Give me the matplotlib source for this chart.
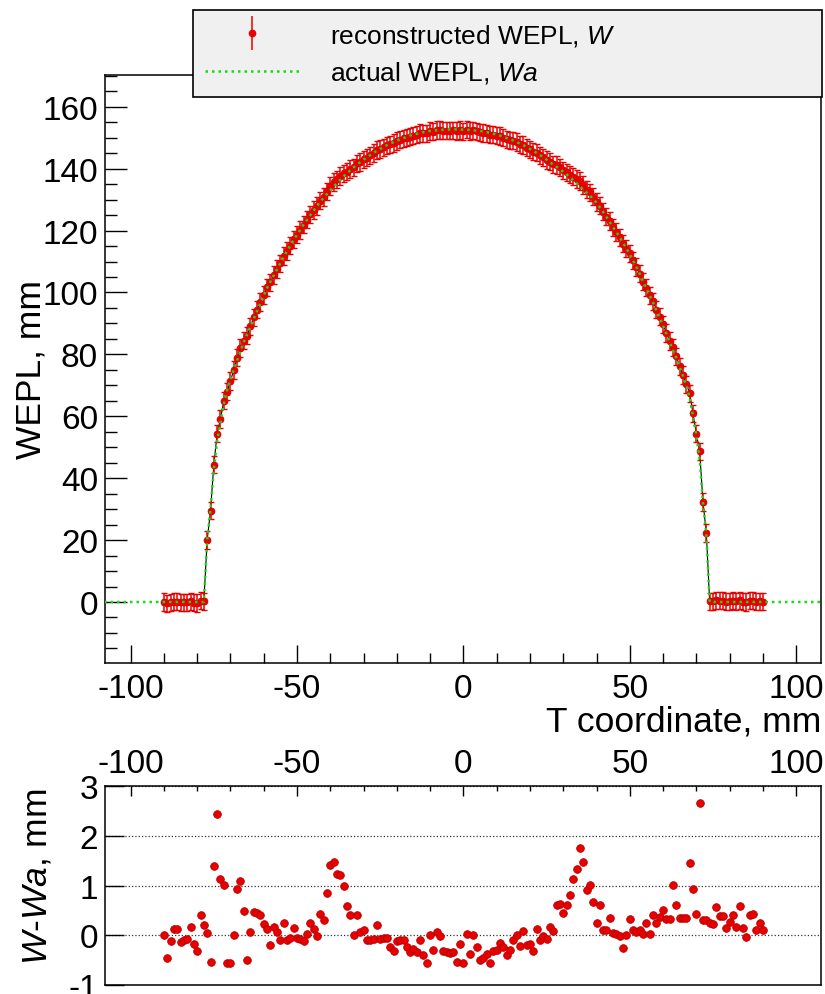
import numpy as np
import matplotlib
matplotlib.use('Agg')
import matplotlib.pyplot as plt
from matplotlib.ticker import MultipleLocator
from matplotlib.lines import Line2D

plt.rcParams['font.family'] = ['Liberation Sans', 'DejaVu Sans']
plt.rcParams['mathtext.fontset'] = 'custom'
plt.rcParams['mathtext.it'] = 'Liberation Sans:italic'
plt.rcParams['mathtext.rm'] = 'Liberation Sans'
plt.rcParams['axes.unicode_minus'] = False

# T coordinate of each reconstructed bin, mm
t = np.arange(-90, 91)

# actual WEPL (mm), t = -90 ... 90
wepl_actual = [
    0, 0, 0, 0, 0, 0, 0, 0, 0, 0,                                  # -90..-81
    0, 0, 0, 20, 30, 43, 52, 58, 64, 68.5,                         # -80..-71
    72, 75, 78, 81, 84, 86.5, 89, 91.5, 94, 96.5,                  # -70..-61
    99, 101.5, 103.5, 105.5, 107.5, 109.5, 111.5, 113.5, 115.2, 117,   # -60..-51
    118.7, 120.3, 122, 123.5, 125, 126.5, 128, 129.3, 130.6, 131.8,    # -50..-41
    133, 134.2, 135.3, 136.4, 137.5, 138.5, 139.5, 140.4, 141.3, 142.1,  # -40..-31
    142.9, 143.7, 144.4, 145.1, 145.8, 146.4, 147, 147.6, 148.1, 148.6,  # -30..-21
    149.1, 149.5, 149.9, 150.3, 150.7, 151, 151.3, 151.6, 151.8, 152,    # -20..-11
    152.2, 152.3, 152.4, 152.5, 152.6, 152.6, 152.7, 152.7, 152.7, 152.7,  # -10..-1
    152.6, 152.6, 152.5, 152.4, 152.3, 152.2, 152, 151.8, 151.6, 151.3,    # 0..9
    151, 150.7, 150.3, 149.9, 149.5, 149.1, 148.6, 148.1, 147.6, 147,      # 10..19
    146.4, 145.8, 145.1, 144.4, 143.7, 142.9, 142.1, 141.3, 140.6, 139.8,  # 20..29
    139, 138.2, 137.3, 136.3, 135.3, 134.3, 133.3, 132.3, 131.3, 130.3,    # 30..39
    129, 127.5, 126, 124.4, 122.7, 121, 119.5, 117.8, 116, 114.2,          # 40..49
    112.3, 110.3, 108.2, 106, 103.5, 101.3, 99, 96.7, 94.2, 91.8,          # 50..59
    89.2, 86.6, 84, 81.3, 78.8, 75.8, 73, 70, 66, 60,                      # 60..69
    54, 46, 32, 22, 0, 0, 0, 0, 0, 0,                                      # 70..79
    0, 0, 0, 0, 0, 0, 0, 0, 0, 0,                                          # 80..89
    0,                                                                     # 90
]

# W - Wa (mm), t = -90 ... 90
residual = [
    0.0, -0.45, -0.12, 0.13, 0.13, -0.14, -0.10, -0.07, 0.16, -0.18,
    -0.31, 0.41, 0.20, 0.05, -0.53, 1.40, 2.43, 1.14, 1.02, -0.55,
    -0.56, 0.0, 0.94, 1.09, 0.48, -0.50, 0.06, 0.47, 0.44, 0.40,
    0.22, 0.13, -0.20, 0.17, 0.06, -0.09, 0.25, -0.09, -0.05, 0.15,
    -0.05, -0.07, -0.12, 0.03, 0.24, 0.13, -0.02, 0.42, 0.30, 0.86,
    1.41, 1.47, 1.23, 1.21, 0.99, 0.58, 0.41, 0.0, 0.41, 0.06,
    0.11, -0.09, -0.09, -0.08, 0.20, -0.08, -0.05, -0.05, -0.24, -0.32,
    -0.12, -0.10, -0.09, -0.24, -0.34, -0.28, -0.34, -0.09, -0.39, -0.56,
    0.0, -0.29, 0.06, -0.02, -0.32, -0.34, -0.36, -0.34, -0.53, -0.17,
    -0.56, 0.03, -0.37, 0.0, -0.24, -0.49, -0.46, -0.37, -0.56, -0.32,
    -0.29, -0.16, -0.24, -0.39, -0.29, -0.09, 0.01, -0.21, 0.08, -0.19,
    -0.17, -0.32, 0.13, -0.09, -0.02, -0.07, 0.17, 0.08, 0.60, 0.62,
    0.45, 0.61, 0.82, 1.13, 1.34, 1.75, 1.47, 0.91, 1.01, 0.66,
    0.24, 0.60, 0.11, 0.11, 0.35, 0.05, 0.03, -0.02, -0.26, 0.0,
    0.32, 0.10, 0.06, 0.10, 0.03, 0.24, 0.03, 0.40, 0.24, 0.37,
    0.51, 0.32, 0.33, 1.01, 0.61, 0.35, 0.35, 0.35, 1.45, 0.94,
    0.43, 2.65, 0.30, 0.30, 0.25, 0.23, 0.57, 0.39, 0.39, 0.14,
    0.26, 0.40, 0.17, 0.59, 0.14, -0.04, 0.40, 0.42, 0.11, 0.25,
    0.11,
]

wepl_err = 2.8   # vertical error bar, mm
t_err = 0.5      # half bin width, mm

wepl_actual = np.array(wepl_actual)
residual = np.array(residual)
wepl_rec = wepl_actual + residual

# actual WEPL continues at zero to the edges of the frame
t_line = np.arange(-108, 109)
pad = np.zeros(18)
wa_line = np.concatenate([pad, wepl_actual, pad])

red = '#e80000'
green = '#11dd11'

fig = plt.figure(figsize=(8.25, 9.95), dpi=100)
ax1 = fig.add_axes([0.1273, 0.3327, 0.868, 0.591])
ax2 = fig.add_axes([0.1273, 0.0090, 0.868, 0.200])

# --- top panel ---
ax1.plot(t, wepl_rec, color='black', lw=0.8, zorder=2)
ax1.errorbar(t, wepl_rec, yerr=wepl_err, xerr=t_err, fmt='o', ms=4.5,
             color=red, ecolor=red, elinewidth=1.1, capsize=2.5, capthick=1.0,
             zorder=3)
ax1.plot(t_line, wa_line, color=green, lw=1.8, linestyle=(0, (1, 1.6)), zorder=4)

ax1.set_xlim(-107.7, 107.5)
ax1.set_ylim(-19.7, 170.3)
ax1.xaxis.set_major_locator(MultipleLocator(50))
ax1.xaxis.set_minor_locator(MultipleLocator(10))
ax1.yaxis.set_major_locator(MultipleLocator(20))
ax1.yaxis.set_minor_locator(MultipleLocator(5))
ax1.tick_params(axis='both', which='both', direction='in', top=False, right=False,
                labelsize=24, width=1.0)
ax1.tick_params(axis='x', which='major', length=13, pad=7)
ax1.tick_params(axis='x', which='minor', length=7)
ax1.tick_params(axis='y', which='major', length=15.5, pad=5)
ax1.tick_params(axis='y', which='minor', length=8.5)
for s in ax1.spines.values():
    s.set_linewidth(1.1)

ax1.set_ylabel('WEPL, mm', fontsize=25.5)
ax1.yaxis.set_label_coords(-0.081, 0.5)
ax1.set_xlabel('T coordinate, mm', fontsize=25.5, ha='right')
ax1.xaxis.set_label_coords(1.0, -0.071)

# legend box sitting over the top frame
h_rec = (Line2D([], [], marker='|', ms=24, mew=1.1, color=red, ls='None'),
         Line2D([], [], marker='o', ms=4.5, color=red, ls='None'))
h_act = Line2D([], [], color=green, lw=1.8, linestyle=(0, (1, 1.6)))
leg = fig.legend([h_rec, h_act],
                 ['reconstructed WEPL, $W$', 'actual WEPL, $Wa$'],
                 loc='lower left',
                 bbox_to_anchor=(193 / 825, 1 - 98 / 995, 629 / 825, 88 / 995),
                 mode='expand', borderaxespad=0, fontsize=19,
                 handlelength=3.6, handletextpad=1.14, labelspacing=0.44,
                 borderpad=0.44, fancybox=False, framealpha=1)
leg.get_frame().set_facecolor('#f0f0f0')
leg.get_frame().set_edgecolor('black')
leg.get_frame().set_linewidth(1.2)

# --- bottom panel: residuals ---
ax2.plot(t, residual, 'o', ms=5.5, color=red, mec='#b40000', mew=0.6, zorder=3)
ax2.set_xlim(-107.7, 107.5)
ax2.set_ylim(-1, 3)
ax2.xaxis.set_major_locator(MultipleLocator(50))
ax2.xaxis.set_minor_locator(MultipleLocator(10))
ax2.yaxis.set_major_locator(MultipleLocator(1))
ax2.yaxis.grid(True, linestyle=':', color='#333333', lw=0.9)
ax2.tick_params(axis='both', which='both', direction='in', labelsize=24, width=1.0,
                right=False)
ax2.tick_params(axis='x', which='both', top=True, bottom=False,
                labeltop=True, labelbottom=False)
ax2.tick_params(axis='x', which='major', length=7, pad=5)
ax2.tick_params(axis='x', which='minor', length=3.5)
ax2.tick_params(axis='y', which='major', length=14, pad=5)
for s in ax2.spines.values():
    s.set_linewidth(1.1)
ax2.set_ylabel('$W$-$Wa$, mm', fontsize=25.5)
ax2.yaxis.set_label_coords(-0.072, 0.55)

fig.savefig('out.png', dpi=100)
